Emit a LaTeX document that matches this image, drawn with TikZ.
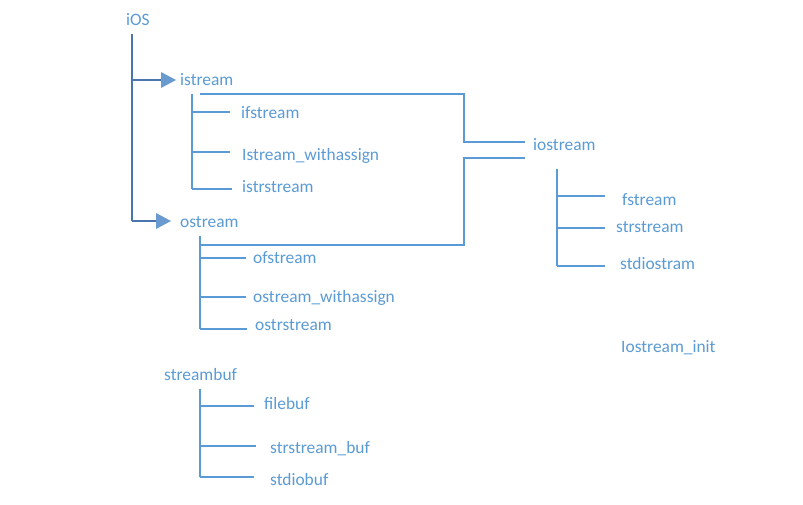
\documentclass[tikz,border=0pt]{standalone}
\usepackage{fontspec}
\setmainfont{Carlito}
\usetikzlibrary{arrows.meta}
\definecolor{tblue}{HTML}{5B9BD5}
\definecolor{dblue}{HTML}{4A76AE}
\definecolor{hblue}{HTML}{6A9BD0}
\tikzset{
  lbl/.style={anchor=west,inner sep=0pt,text=tblue,font=\fontsize{17.4}{19}\selectfont},
  br/.style={draw=tblue,line width=2.5pt},
  trunk/.style={draw=dblue,line width=2.6pt},
  arr/.style={draw=dblue,line width=2.4pt,-{Triangle[length=15pt,width=16pt,fill=hblue,line width=0pt]}}
}
\begin{document}
\begin{tikzpicture}[x=1pt,y=-1pt]
\useasboundingbox[fill=white] (0,0) rectangle (803,504);
% labels
\node[lbl] (ios) at (126,20) {iOS};
\node[lbl] (istream) at (180,80) {istream};
\node[lbl] (ostream) at (180,222) {ostream};
\node[lbl] (ifstream) at (241,113) {ifstream};
\node[lbl] (iswa) at (242,156) {Istream\_withassign};
\node[lbl] (istr) at (242,187) {istrstream};
\node[lbl] (ofstream) at (253,258) {ofstream};
\node[lbl] (oswa) at (253,298) {ostream\_withassign};
\node[lbl] (ostr) at (255,325) {ostrstream};
\node[lbl] (iostream) at (533,145) {iostream};
\node[lbl] (fstream) at (622,200) {fstream};
\node[lbl] (strstream) at (616,227) {strstream};
\node[lbl] (stdio) at (620,264) {stdiostram};
\node[lbl] (init) at (621,348) {Iostream\_init};
\node[lbl] (sbuf) at (164,375) {streambuf};
\node[lbl] (filebuf) at (264,404) {filebuf};
\node[lbl] (ssbuf) at (270,449) {strstream\_buf};
\node[lbl] (stdiobuf) at (270,480) {stdiobuf};
% trunk coordinates
\coordinate (t0) at (132,34);
\coordinate (t1) at (132,80);
\coordinate (t2) at (132,221);
\coordinate (a1) at (176,80);
\coordinate (a2) at (171,221);
\draw[trunk] (t0) -- (t2);
\draw[arr] (t1) -- (a1);
\draw[arr] (t2) -- (a2);
% istream branch
\coordinate (iv0) at (192,94);
\coordinate (iv1) at (192,112);
\coordinate (iv2) at (192,152);
\coordinate (iv3) at (192,189);
\draw[br] (iv0) -- (iv3);
\draw[br] (iv1) -- (230,112);
\draw[br] (iv2) -- (230,152);
\draw[br] (iv3) -- (232,189);
% istream -> iostream connector
\coordinate (c1) at (200,94);
\coordinate (c2) at (464,94);
\coordinate (c3) at (464,142);
\coordinate (c4) at (525,142);
\draw[br] (c1) -- (c2) -- (c3) -- (c4);
% ostream -> iostream connector
\coordinate (d1) at (200,245);
\coordinate (d2) at (464,245);
\coordinate (d3) at (464,158);
\coordinate (d4) at (525,158);
\draw[br] (d1) -- (d2) -- (d3) -- (d4);
% ostream branch
\coordinate (ov0) at (200,236);
\coordinate (ov1) at (200,258);
\coordinate (ov2) at (200,297);
\coordinate (ov3) at (200,329);
\draw[br] (ov0) -- (ov3);
\draw[br] (ov1) -- (246,258);
\draw[br] (ov2) -- (246,297);
\draw[br] (ov3) -- (247,329);
% iostream branch
\coordinate (jv0) at (557,169);
\coordinate (jv1) at (557,196);
\coordinate (jv2) at (557,228);
\coordinate (jv3) at (557,266);
\draw[br] (jv0) -- (jv3);
\draw[br] (jv1) -- (605,196);
\draw[br] (jv2) -- (605,228);
\draw[br] (jv3) -- (605,266);
% streambuf branch
\coordinate (sv0) at (200,389);
\coordinate (sv1) at (200,406);
\coordinate (sv2) at (200,446);
\coordinate (sv3) at (200,477);
\draw[br] (sv0) -- (sv3);
\draw[br] (sv1) -- (254,406);
\draw[br] (sv2) -- (256,446);
\draw[br] (sv3) -- (254,477);
\end{tikzpicture}
\end{document}
